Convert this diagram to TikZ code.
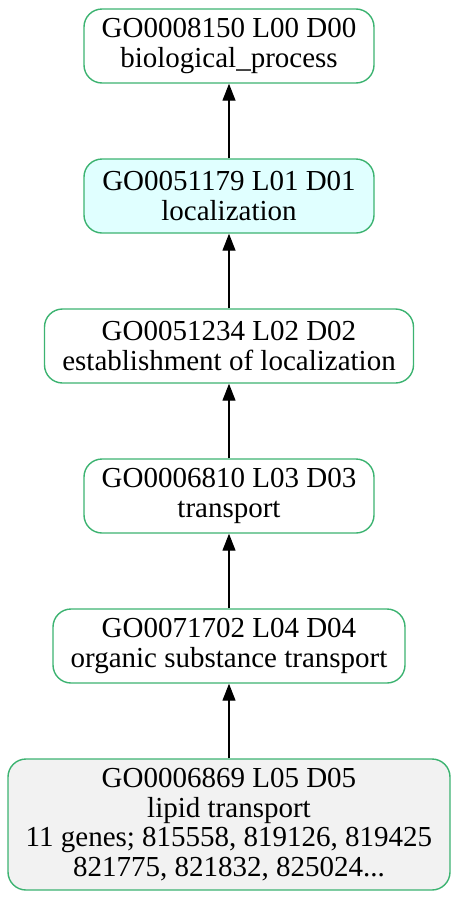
\documentclass[tikz,border=0pt]{standalone}
\usepackage{fontspec}
\setmainfont{Liberation Serif}
\usetikzlibrary{positioning,arrows.meta}
\definecolor{goline}{HTML}{3CB371}
\definecolor{gocyan}{HTML}{E0FFFF}
\definecolor{gogrey}{HTML}{F2F2F2}
\begin{document}
\begin{tikzpicture}[
  x=1pt, y=1pt,
  term/.style={rectangle, rounded corners=18pt, draw=goline, line width=1.4pt, fill=white,
    minimum height=74pt, align=center, inner sep=0pt, font=\fontsize{29}{29.5}\selectfont},
  isa/.style={-{Triangle[length=17pt,width=13pt]}, line width=1.3pt},
  node distance=74.6pt
]
\useasboundingbox (0,0) rectangle (459,-900);
\node[term, fill=gogrey, minimum width=442pt, minimum height=131pt] (lipid) at (229,-824.5)
  {GO0006869 L05 D05\\lipid transport\\11 genes; 815558, 819126, 819425\\821775, 821832, 825024...};
\node[term, minimum width=352pt, above=of lipid] (organic) {GO0071702 L04 D04\\organic substance transport};
\node[term, minimum width=290pt, above=of organic] (transport) {GO0006810 L03 D03\\transport};
\node[term, minimum width=369pt, above=of transport] (establish) {GO0051234 L02 D02\\establishment of localization};
\node[term, fill=gocyan, minimum width=290pt, above=of establish] (local) {GO0051179 L01 D01\\localization};
\node[term, minimum width=290pt, above=of local] (bioproc) {GO0008150 L00 D00\\biological\_process};

\draw[isa] (lipid) -- (organic);
\draw[isa] (organic) -- (transport);
\draw[isa] (transport) -- (establish);
\draw[isa] (establish) -- (local);
\draw[isa] (local) -- (bioproc);
\end{tikzpicture}
\end{document}
